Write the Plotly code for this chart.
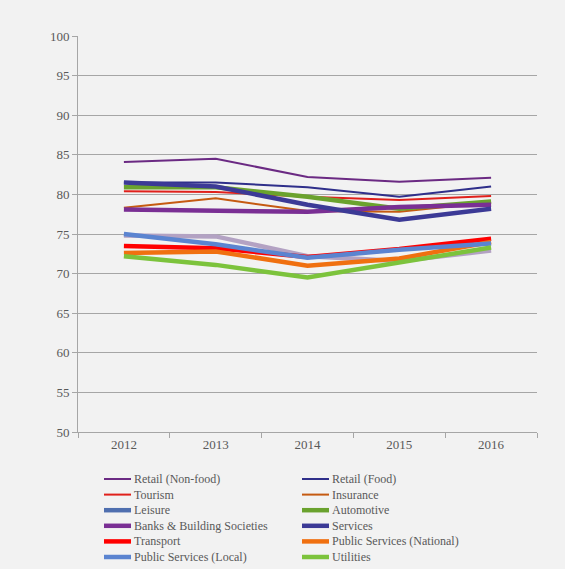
import plotly.graph_objects as go

years = ["2012", "2013", "2014", "2015", "2016"]

retail_nonfood = [84.1, 84.5, 82.2, 81.6, 82.1]
retail_food = [81.5, 81.5, 80.9, 79.7, 81.0]
tourism = [80.4, 80.3, 79.7, 79.3, 79.8]
insurance = [78.3, 79.5, 77.9, 77.8, 79.0]
leisure = [74.8, 74.7, 72.2, 71.6, 72.9]
automotive = [80.9, 80.9, 79.7, 78.2, 79.1]
banks = [78.1, 77.9, 77.8, 78.4, 78.7]
services = [81.5, 81.0, 78.7, 76.8, 78.2]
transport = [73.5, 73.2, 72.1, 73.1, 74.4]
ps_national = [72.6, 72.8, 71.0, 71.9, 74.0]
ps_local = [75.0, 73.7, 72.0, 73.0, 73.8]
utilities = [72.2, 71.1, 69.5, 71.4, 73.3]

# name, values, legend colour, line colour, width
series = [
    ("Retail (Non-food)", retail_nonfood, "#6b2a83", "#6b2a83", 2),
    ("Retail (Food)", retail_food, "#2f2f8a", "#2f2f8a", 2),
    ("Tourism", tourism, "#e0201b", "#e0201b", 2),
    ("Insurance", insurance, "#c55a11", "#c55a11", 2),
    ("Leisure", leisure, "#4f6faf", "#b3a2c3", 4.5),
    ("Automotive", automotive, "#6aa22e", "#6aa22e", 4.5),
    ("Banks & Building Societies", banks, "#7a2f94", "#7a2f94", 4.5),
    ("Services", services, "#3c3a96", "#3c3a96", 4.5),
    ("Transport", transport, "#ff0000", "#ff0000", 4.5),
    ("Public Services (National)", ps_national, "#f07010", "#f07010", 4.5),
    ("Public Services (Local)", ps_local, "#5b84d0", "#5b84d0", 4.5),
    ("Utilities", utilities, "#7cc33c", "#7cc33c", 4.5),
]

W, H = 565, 569
L, R, T, B = 78, 28, 36, 137
pw, ph = W - L - R, H - T - B

def px(x):
    return (x - L) / pw

def py(y):
    return (H - B - y) / ph

font_family = "Liberation Serif"
fsize = 12
pitch = 1.3 * fsize
y_first = 479
col_x = [104, 302]

fig = go.Figure()
shapes = []
col_names = [[], []]
for i, (name, vals, lcol, col, w) in enumerate(series):
    fig.add_trace(go.Scatter(x=years, y=vals, mode="lines", name=name,
                             showlegend=False, line=dict(color=col, width=w)))
    row, c = divmod(i, 2)
    yc = y_first + row * pitch
    x0 = col_x[c]
    shapes.append(dict(type="line", xref="paper", yref="paper",
                       x0=px(x0), x1=px(x0 + 27), y0=py(yc), y1=py(yc),
                       line=dict(color=lcol, width=2 if w < 3 else 4.5)))
    col_names[c].append(name)

nrows = len(col_names[0])
y_mid = y_first + (nrows - 1) * pitch / 2
annotations = []
for c in range(2):
    annotations.append(dict(xref="paper", yref="paper", x=px(col_x[c] + 29),
                            y=py(y_mid), xanchor="left", yanchor="middle",
                            align="left", showarrow=False, borderpad=0,
                            text="<br>".join(n.replace("&", "&amp;") for n in col_names[c]),
                            font=dict(family=font_family, size=fsize,
                                      color="#595959")))

fig.update_layout(
    width=W, height=H,
    margin=dict(l=L, r=R, t=T, b=B),
    paper_bgcolor="#f2f2f2", plot_bgcolor="#f2f2f2",
    font=dict(family=font_family, size=13, color="#595959"),
    showlegend=False,
    shapes=shapes, annotations=annotations,
    xaxis=dict(type="category", range=[-0.5, 4.5], showgrid=False, showline=True,
               linecolor="#a6a6a6", linewidth=1, ticks="outside",
               tickson="boundaries", ticklen=5, tickcolor="#a6a6a6",
               tickfont=dict(size=13, color="#595959")),
    yaxis=dict(range=[50, 100], dtick=5, showgrid=True, gridcolor="#a6a6a6",
               gridwidth=1, showline=True, linecolor="#a6a6a6", linewidth=1,
               ticks="outside", ticklen=5, tickcolor="#a6a6a6", zeroline=False,
               tickfont=dict(size=13, color="#595959")),
)

fig.write_html("out.html")
